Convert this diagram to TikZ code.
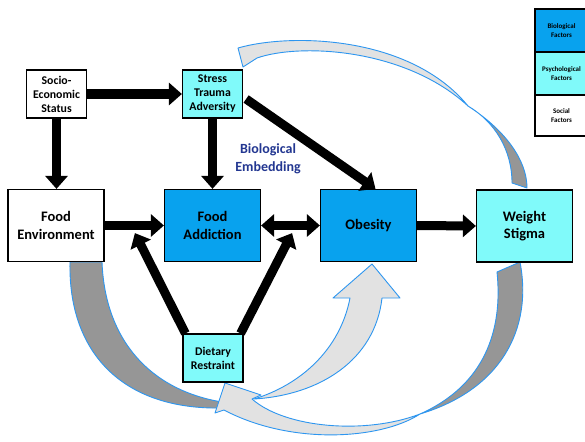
\documentclass[tikz,border=0pt]{standalone}
\usepackage{fontspec}
\setmainfont{Carlito}
\usetikzlibrary{arrows.meta}
\definecolor{bioblue}{RGB}{8,162,238}
\definecolor{psycyan}{RGB}{128,250,250}
\definecolor{outl}{RGB}{45,150,240}
\definecolor{lightfill}{RGB}{226,226,226}
\definecolor{darkfill}{RGB}{150,150,150}
\definecolor{embed}{RGB}{35,55,145}
\begin{document}
\begin{tikzpicture}[x=1pt,y=-1pt,
 bigbox/.style={draw=black,line width=1.2pt,inner sep=0pt,align=center,minimum width=96pt,minimum height=72pt,font=\bfseries\fontsize{14.5}{17.5}\selectfont},
 smallbox/.style={draw=black,line width=1.2pt,inner sep=0pt,align=center,minimum width=60pt,minimum height=48pt,font=\bfseries\fontsize{11.8}{14}\selectfont},
 legbox/.style={draw=black,line width=1.3pt,inner sep=0pt,align=center,minimum width=53pt,font=\bfseries\fontsize{7}{9}\selectfont},
 thick arrow/.style={line width=9pt,-{Triangle[width=22pt,length=13pt]}},
 both arrow/.style={line width=9pt,{Triangle[width=22pt,length=13pt]}-{Triangle[width=22pt,length=13pt]}},
 band/.style={draw=outl,line width=0.9pt,line join=round},
]
\useasboundingbox (0,0) rectangle (585,441);
\fill[white] (0,0) rectangle (585,441);

% Food Environment -> Dietary Restraint (gray band)
\path[band,fill=darkfill] (70,262) .. controls (68,350) and (120,410) .. (222,408)
  -- (222,402) .. controls (150,390) and (105,340) .. (102,262) -- cycle;

% Weight Stigma -> Dietary Restraint (twisted band)
\path[band,fill=darkfill] (520,262) .. controls (533,330) and (500,390) .. (420,414)
  .. controls (485,385) and (503,330) .. (497,272) -- cycle;
\path[band,fill=lightfill] (420,414) .. controls (380,440) and (290,445) .. (224,410)
  -- (215,413) -- (225,383) -- (261,395) -- (252,399)
  .. controls (285,428) and (365,435) .. (420,414) -- cycle;

% Dietary Restraint -> Obesity
\path[band,fill=lightfill] (254,399) .. controls (300,385) and (340,350) .. (350,298)
  -- (333,298) -- (372,264) -- (400,298) -- (382,298)
  .. controls (375,360) and (320,395) .. (254,399) -- cycle;

% Weight Stigma -> Stress (top arc)
\path[band,fill=darkfill] (468,106) .. controls (505,130) and (527,160) .. (527,188)
  -- (512,183) .. controls (512,150) and (495,122) .. (468,106) -- cycle;
\path[band,fill=lightfill] (238,48) .. controls (290,33) and (410,35) .. (468,106)
  .. controls (405,48) and (300,43) .. (257,58) -- (243,67) -- cycle;

% nodes
\node[smallbox,fill=white] (ses) at (56.5,94) {Socio-\\Economic\\Status};
\node[smallbox,fill=psycyan] (stress) at (212.5,94) {Stress\\Trauma\\Adversity};
\node[bigbox,fill=white] (fe) at (56,225.5) {Food\\Environment};
\node[bigbox,fill=bioblue] (fa) at (212.5,225.5) {Food\\Addiction};
\node[bigbox,fill=bioblue] (ob) at (368.5,225.5) {Obesity};
\node[bigbox,fill=psycyan] (ws) at (524.5,226) {Weight\\Stigma};
\node[smallbox,fill=psycyan] (dr) at (213,358) {Dietary\\Restraint};
\node[font=\bfseries\fontsize{14}{17.5}\selectfont,text=embed,align=center] (be) at (268,159) {Biological\\Embedding};

% legend
\node[legbox,fill=bioblue,minimum height=43pt] (lbio) at (561.5,30.5) {Biological\\Factors};
\node[legbox,fill=psycyan,minimum height=43pt] (lpsy) at (561.5,73.5) {Psychological\\Factors};
\node[legbox,fill=white,minimum height=41pt] (lsoc) at (561.5,115.5) {Social\\Factors};

% black arrows
\draw[thick arrow] (ses.east) -- (stress.west);
\draw[thick arrow] (ses.south) -- (ses.south |- fe.north);
\draw[thick arrow] (stress.south) -- (fa.north);
\draw[thick arrow] (fe.east) -- (fa.west);
\draw[both arrow] (fa.east) -- (ob.west);
\draw[thick arrow] (ob.east) -- (ws.west);
\draw[thick arrow] ([xshift=3pt,yshift=-5pt]stress.east) -- ([xshift=7pt]ob.north);
\draw[thick arrow] ([xshift=3pt]dr.north west) -- ([xshift=-29pt,yshift=29pt]fa.south west);
\draw[thick arrow] ([xshift=-3pt]dr.north east) -- ([xshift=31pt,yshift=29pt]fa.south east);
\end{tikzpicture}
\end{document}
